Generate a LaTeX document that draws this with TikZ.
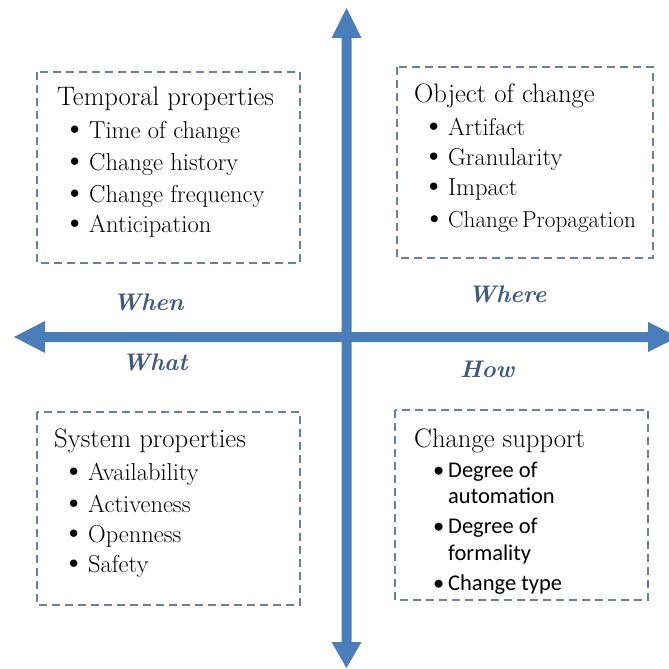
\documentclass[tikz,border=0pt]{standalone}
\usepackage{fontspec}
\newfontfamily\calib{Carlito}
\definecolor{axisblue}{RGB}{74,126,187}
\definecolor{dashc}{RGB}{100,130,165}
\definecolor{labc}{RGB}{60,90,130}
\newcommand{\bul}{\llap{\raisebox{-0.6pt}{\scalebox{1.35}{\textbullet}}\hspace{2.5pt}}}
\newcommand{\cbul}{\llap{\textbullet\hspace{4pt}}}
\begin{document}
\begin{tikzpicture}[x=1pt,y=-1pt,
  box/.style={draw=dashc, line width=1.6pt, dash pattern=on 8pt off 5pt},
  ttl/.style={anchor=base west, inner sep=0pt, font=\fontsize{26.7}{30}\selectfont},
  itm/.style={anchor=base west, inner sep=0pt, font=\fontsize{24.5}{28}\selectfont},
  citm/.style={anchor=base west, inner sep=0pt, font=\calib\fontsize{22.5}{26}\selectfont},
  axlab/.style={anchor=base west, inner sep=0pt, text=labc, font=\fontsize{24}{28}\selectfont\bfseries\itshape}]
\useasboundingbox (0,0) rectangle (669,669);
% axes
\fill[axisblue] (346.5,8) -- (361.5,38) -- (351.5,38) -- (351.5,642) -- (361.5,642) -- (346.5,668)
  -- (331.5,642) -- (341.5,642) -- (341.5,38) -- (331.5,38) -- cycle;
\fill[axisblue] (14,337) -- (45,321) -- (45,332) -- (648,332) -- (648,322) -- (678,337)
  -- (648,352) -- (648,342) -- (45,342) -- (45,353) -- cycle;
% boxes
\draw[box] (37,72) rectangle (300,263);
\draw[box] (397,67) rectangle (653,258);
\draw[box] (37,412) rectangle (300,605);
\draw[box] (395,410) rectangle (648,600);
% axis labels
\node[axlab] (when) at (113,310) {When};
\node[axlab] (where) at (468,302) {Where};
\node[axlab] (what) at (122,370) {What};
\node[axlab] (how) at (460,377) {How};
% top-left
\node[ttl] (tl0) at (57,105) {Temporal properties};
\node[itm] (tl1) at (89,138) {\bul Time of change};
\node[itm] (tl2) at (89,170) {\bul Change history};
\node[itm] (tl3) at (89,202) {\bul Change frequency};
\node[itm] (tl4) at (89,232) {\bul Anticipation};
% top-right
\node[ttl] (tr0) at (414,102) {Object of change};
\node[itm] (tr1) at (448,135) {\bul Artifact};
\node[itm] (tr2) at (448,165) {\bul Granularity};
\node[itm] (tr3) at (448,195) {\bul Impact};
\node[itm, font=\fontsize{23.2}{28}\selectfont] (tr4) at (448,227) {\bul Change\hspace{4pt}Propagation};
% bottom-left
\node[ttl] (bl0) at (54,447) {System properties};
\node[itm] (bl1) at (88,480) {\bul Availability};
\node[itm] (bl2) at (88,512) {\bul Activeness};
\node[itm] (bl3) at (88,542) {\bul Openness};
\node[itm] (bl4) at (88,572) {\bul Safety};
% bottom-right
\node[ttl] (br0) at (414,447) {Change support};
\node[citm] (br1) at (448,477) {\cbul Degree of};
\node[citm] (br2) at (448,503) {automation};
\node[citm] (br3) at (448,533) {\cbul Degree of};
\node[citm] (br4) at (448,560) {formality};
\node[citm] (br5) at (448,590) {\cbul Change type};
\end{tikzpicture}
\end{document}
